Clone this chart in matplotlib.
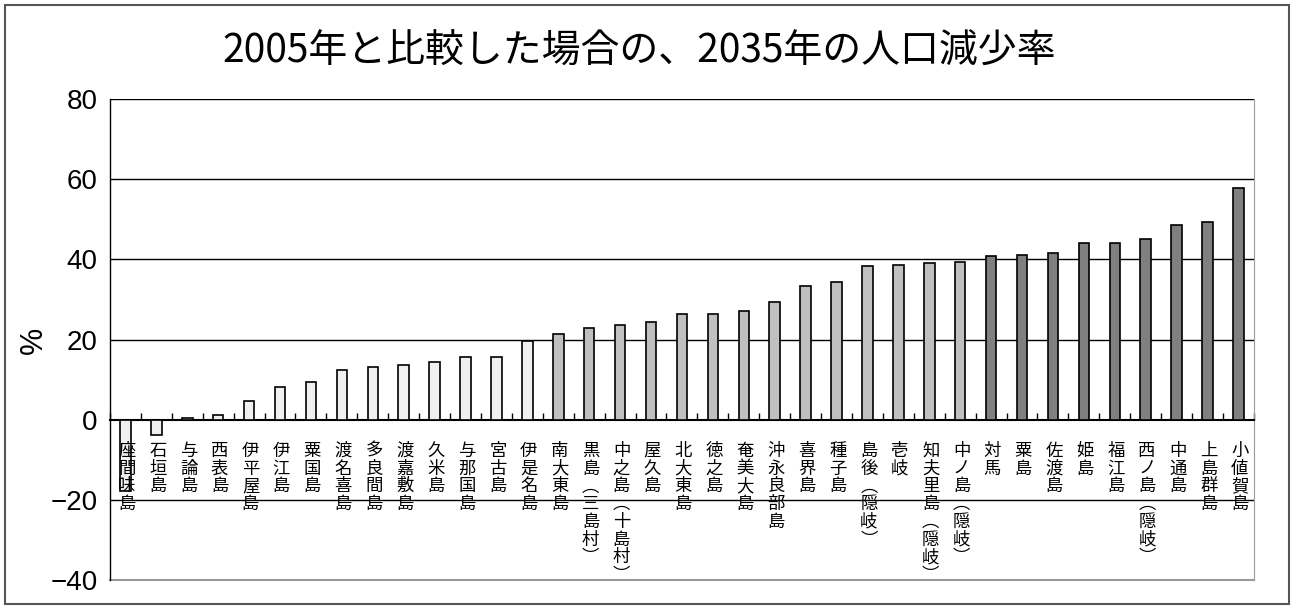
import matplotlib.pyplot as plt
from matplotlib.patches import Rectangle

plt.rcParams['font.family'] = ['Noto Sans CJK JP', 'DejaVu Sans']

# 島名（減少率の小さい順）
islands = ['座間味島', '石垣島', '与論島', '西表島', '伊平屋島', '伊江島', '粟国島',
           '渡名喜島', '多良間島', '渡嘉敷島', '久米島', '与那国島', '宮古島', '伊是名島',
           '南大東島', '黒島(三島村)', '中之島(十島村)', '屋久島', '北大東島', '徳之島',
           '奄美大島', '沖永良部島', '喜界島', '種子島', '島後(隠岐)', '壱岐',
           '知夫里島(隠岐)', '中ノ島(隠岐)',
           '対馬', '粟島', '佐渡島', '姫島', '福江島', '西ノ島(隠岐)', '中通島',
           '上島群島', '小値賀島']

# 2035年の人口減少率 (%)
rates = [-17.7, -3.9, 0.4, 1.1, 4.7, 8.2, 9.3, 12.5, 13.2, 13.6, 14.3, 15.7, 15.7, 19.7,
         21.5, 22.9, 23.7, 24.3, 26.5, 26.5, 27.2, 29.3, 33.3, 34.3, 38.3, 38.7, 39.0, 39.4,
         40.8, 41.1, 41.6, 44.1, 44.1, 45.1, 48.7, 49.4, 57.7]

# 色分けのグループ数
groups = [14, 14, 9]
group_colors = ['#f0f0f0', '#c0c0c0', '#808080']

colors = []
for n, c in zip(groups, group_colors):
    colors += [c] * n


def vertical(s):
    # 縦書き用に括弧を縦書き形へ
    s = s.replace('(', '\ufe35').replace(')', '\ufe36')
    return '\n'.join(s)


fig = plt.figure(figsize=(12.94, 6.08), dpi=100)
ax = fig.add_axes([0.085, 0.046, 0.884, 0.791])

x = list(range(len(islands)))
ax.bar(x, rates, width=0.34, color=colors, edgecolor='black', linewidth=1.2, zorder=3)

ax.set_xlim(-0.5, len(islands) - 0.5)
ax.set_ylim(-40, 80)
ax.set_yticks([-40, -20, 0, 20, 40, 60, 80])
for v in [-20, 20, 40, 60, 80]:
    ax.axhline(v, color='black', linewidth=1.0, zorder=1)

# 横軸は0の位置、枠の下と右は灰色
ax.spines['bottom'].set_position(('data', 0))
ax.spines['bottom'].set_linewidth(1.5)
ax.spines['left'].set_linewidth(1.0)
ax.spines['top'].set_visible(False)
ax.spines['right'].set_color('#999999')
ax.axhline(-40, color='#999999', linewidth=1.5, clip_on=False)

ax.set_xticks([i - 0.5 for i in range(len(islands) + 1)])
ax.set_xticklabels([])
ax.tick_params(axis='x', direction='in', length=5, width=1)
ax.tick_params(axis='y', length=0, labelsize=20, pad=9)
for t in ax.get_yticklabels():
    t.set_fontfamily(['Liberation Sans', 'DejaVu Sans'])

for i, name in enumerate(islands):
    ax.annotate(vertical(name), (i, 0), xytext=(1, -16), textcoords='offset points',
                ha='center', va='top', fontsize=12.5, linespacing=0.98, zorder=4)

fig.text(0.026, 0.44, '%', rotation=90, ha='center', va='center', fontsize=22,
         family=['Liberation Sans', 'DejaVu Sans'])

fig.text(0.494, 0.915, '2005年と比較した場合の、2035年の人口減少率',
         ha='center', va='center', fontsize=28)

fig.patches.append(Rectangle((0.004, 0.006), 0.992, 0.986, transform=fig.transFigure,
                             fill=False, edgecolor='#555555', linewidth=1.5))

fig.savefig('out.png', dpi=100)
